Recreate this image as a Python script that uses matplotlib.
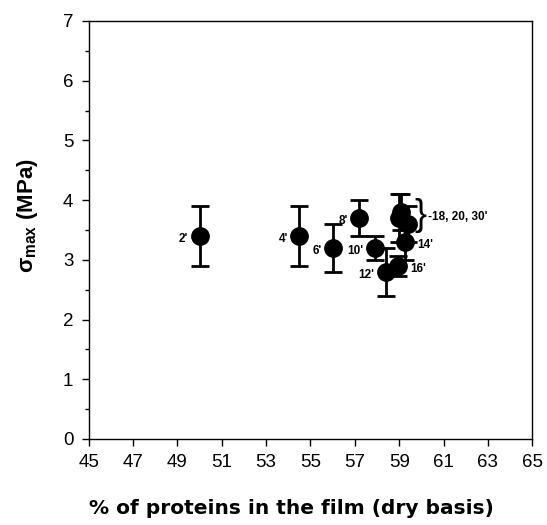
import numpy as np
import matplotlib
matplotlib.use("Agg")
import matplotlib.pyplot as plt
from matplotlib.ticker import MultipleLocator

plt.rcParams['font.family'] = ['Liberation Sans', 'DejaVu Sans']

# ---------------data
protein = [50.0, 54.5, 56.0, 57.2, 57.9, 58.4, 59.25, 58.95, 59.0, 59.1, 59.4]
sigma = [3.4, 3.4, 3.2, 3.7, 3.2, 2.8, 3.3, 2.9, 3.7, 3.8, 3.6]
sd = [0.5, 0.5, 0.4, 0.3, 0.2, 0.4, 0.3, 0.17, 0.4, 0.3, 0.3]
labels = ["2'", "4'", "6'", "8'", "10'", "12'", "14'", "16'", "", "", ""]
label_side = ['l', 'l', 'l', 'l', 'l', 'l', 'r', 'r', '', '', '']
group_label = "18, 20, 30'"

xticks = np.arange(45, 66, 2)

# ---------------plot-------------------
fig = plt.figure(figsize=(5.47, 5.25), dpi=100)
ax = fig.add_axes([0.162, 0.164, 0.811, 0.796])

ax.errorbar(protein, sigma, yerr=sd, fmt='o', color='black', ms=12.5,
            ecolor='black', elinewidth=2, capsize=6.5, capthick=2)

for x, y, lab, side in zip(protein, sigma, labels, label_side):
    if not lab:
        continue
    if side == 'l':
        ax.annotate(lab, (x, y), xytext=(-8, -2), textcoords='offset points',
                    ha='right', va='center', fontsize=8.5, fontweight='bold')
    else:
        ax.annotate(lab, (x, y), xytext=(9, -2), textcoords='offset points',
                    ha='left', va='center', fontsize=8.5, fontweight='bold')

# bracket for the overlapping group
ax.text(59.7, 3.74, '}', ha='left', va='center', fontsize=26,
        fontweight='light')
ax.text(60.3, 3.72, '-' + group_label, ha='left', va='center',
        fontsize=8.5, fontweight='bold')

ax.set_xlim(45, 65)
ax.set_ylim(0, 7)
ax.set_xticks(xticks)
ax.yaxis.set_major_locator(MultipleLocator(1))
ax.yaxis.set_minor_locator(MultipleLocator(0.5))
ax.tick_params(axis='both', which='major', direction='out', length=5,
               width=1, labelsize=13.5, pad=6)
ax.tick_params(axis='y', which='minor', direction='out', length=3, width=1)

for s in ax.spines.values():
    s.set_linewidth(1)

ax.set_xlabel('% of proteins in the film (dry basis)', fontsize=14.5,
              fontweight='bold', family='DejaVu Sans')
ax.xaxis.set_label_coords(0.457, -0.145)
ax.set_ylabel(r'$\mathregular{\sigma_{max}}$ (MPa)', fontsize=16,
              fontweight='bold')
ax.yaxis.set_label_coords(-0.11, 0.535)

fig.savefig('out.png', dpi=100)
